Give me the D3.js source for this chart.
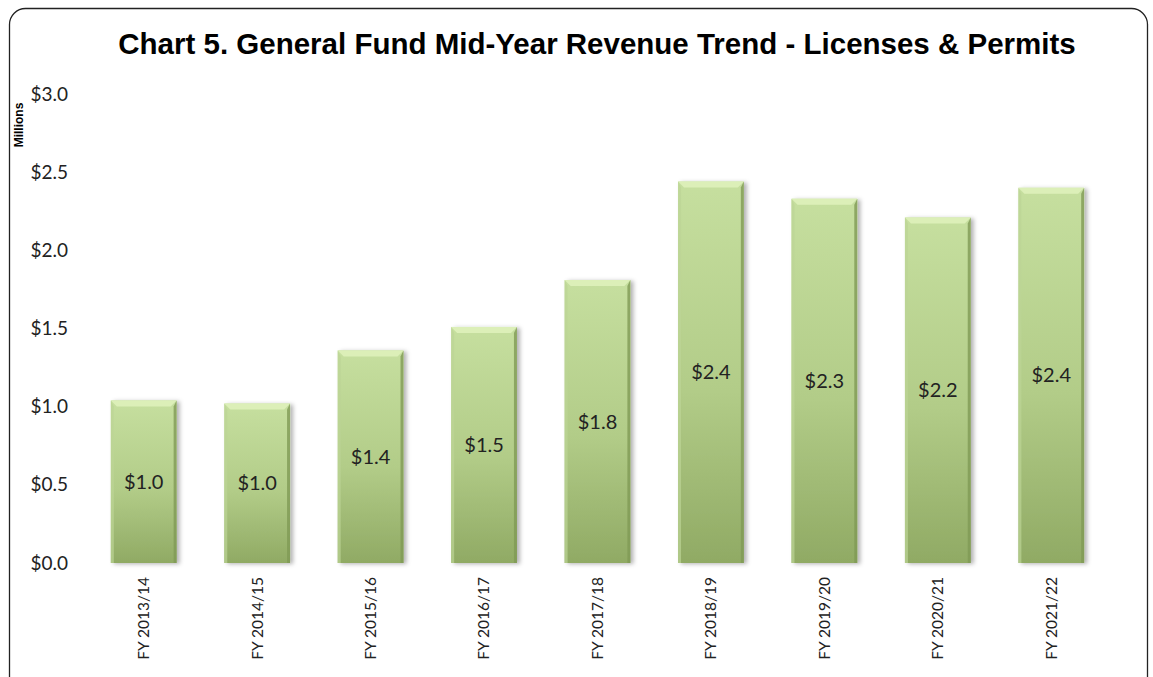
<!DOCTYPE html>
<html>
<head>
<meta charset="utf-8">
<script src="https://cdn.jsdelivr.net/npm/d3@7"></script>
<style>
  body { margin: 0; background: #fff; }
  svg { display: block; }
</style>
</head>
<body>
<script>
// DATA
var categories = ['FY 2013/14', 'FY 2014/15', 'FY 2015/16', 'FY 2016/17', 'FY 2017/18',
                  'FY 2018/19', 'FY 2019/20', 'FY 2020/21', 'FY 2021/22'];
var revenues = [1.04, 1.02, 1.36, 1.51, 1.81, 2.44, 2.33, 2.21, 2.40];
var barLabels = ['$1.0', '$1.0', '$1.4', '$1.5', '$1.8', '$2.4', '$2.3', '$2.2', '$2.4'];
var yTicks = [0, 0.5, 1.0, 1.5, 2.0, 2.5, 3.0];

var width = 1153;
var height = 677;

var svg = d3.select('body').append('svg')
  .attr('width', width)
  .attr('height', height);

var defs = svg.append('defs');

var grad = defs.append('linearGradient')
  .attr('id', 'barGrad')
  .attr('x1', 0).attr('y1', 0).attr('x2', 0).attr('y2', 1);
grad.append('stop').attr('offset', '0%').attr('stop-color', '#c6df9f');
grad.append('stop').attr('offset', '55%').attr('stop-color', '#b2cc88');
grad.append('stop').attr('offset', '100%').attr('stop-color', '#90aa64');

var shadow = defs.append('filter')
  .attr('id', 'shadow')
  .attr('x', '-20%').attr('y', '-10%').attr('width', '140%').attr('height', '120%');
shadow.append('feDropShadow')
  .attr('dx', 3).attr('dy', 1).attr('stdDeviation', 2)
  .attr('flood-color', '#000').attr('flood-opacity', 0.3);

// outer frame (bottom runs off the picture)
svg.append('rect')
  .attr('x', 9.5)
  .attr('y', 8.5)
  .attr('width', 1138)
  .attr('height', 700)
  .attr('rx', 16)
  .attr('fill', 'none')
  .attr('stroke', '#222')
  .attr('stroke-width', 1.3);

// title
svg.append('text')
  .attr('x', 597)
  .attr('y', 54)
  .attr('text-anchor', 'middle')
  .style('font-family', '"Liberation Sans", Arial, sans-serif')
  .style('font-weight', 'bold')
  .style('font-size', '29.5px')
  .text('Chart 5. General Fund Mid-Year Revenue Trend - Licenses & Permits');

// scales
var x = d3.scaleBand()
  .domain(categories)
  .range([87, 1108])
  .paddingInner(0.42)
  .paddingOuter(0.21);

var y = d3.scaleLinear()
  .domain([0, 3])
  .range([563, 94]);

// y axis labels
svg.selectAll('.ytick')
  .data(yTicks)
  .enter()
  .append('text')
  .attr('class', 'ytick')
  .attr('x', 68)
  .attr('y', function(d) { return y(d); })
  .attr('dy', '0.35em')
  .attr('text-anchor', 'end')
  .style('font-family', 'Lato, "Open Sans", sans-serif')
  .style('font-size', '19px')
  .style('fill', '#222')
  .text(function(d) { return '$' + d.toFixed(1); });

// units label
svg.append('text')
  .attr('transform', 'translate(23,125) rotate(-90)')
  .attr('text-anchor', 'middle')
  .style('font-family', '"Liberation Sans", Arial, sans-serif')
  .style('font-weight', 'bold')
  .style('font-size', '12px')
  .text('Millions');

// bars
var bars = svg.selectAll('.bar')
  .data(revenues)
  .enter()
  .append('g')
  .attr('class', 'bar');

bars.append('rect')
  .attr('x', function(d, i) { return x(categories[i]); })
  .attr('y', function(d) { return y(d); })
  .attr('width', x.bandwidth())
  .attr('height', function(d) { return y(0) - y(d); })
  .attr('fill', 'url(#barGrad)')
  .attr('filter', 'url(#shadow)');

var bev = 6;
// top bevel
bars.append('polygon')
  .attr('points', function(d, i) {
    var x0 = x(categories[i]), x1 = x0 + x.bandwidth(), t = y(d);
    return [[x0, t], [x1, t], [x1 - bev, t + bev], [x0 + bev, t + bev]].join(' ');
  })
  .attr('fill', '#dcefb8');
// left bevel
bars.append('polygon')
  .attr('points', function(d, i) {
    var x0 = x(categories[i]), t = y(d), b = y(0);
    return [[x0, t], [x0 + 3, t + bev], [x0 + 3, b], [x0, b]].join(' ');
  })
  .attr('fill', '#bcd495')
  .attr('opacity', 0.7);
// right bevel
bars.append('polygon')
  .attr('points', function(d, i) {
    var x1 = x(categories[i]) + x.bandwidth(), t = y(d), b = y(0);
    return [[x1, t], [x1 - 3, t + bev], [x1 - 3, b], [x1, b]].join(' ');
  })
  .attr('fill', '#7f9a55')
  .attr('opacity', 0.8);

// value labels
svg.selectAll('.vlabel')
  .data(revenues)
  .enter()
  .append('text')
  .attr('class', 'vlabel')
  .attr('x', function(d, i) { return x(categories[i]) + x.bandwidth() / 2; })
  .attr('y', function(d) { return (y(d) + y(0)) / 2; })
  .attr('dy', '0.35em')
  .attr('text-anchor', 'middle')
  .style('font-family', 'Lato, "Open Sans", sans-serif')
  .style('font-size', '20px')
  .style('fill', '#222')
  .text(function(d, i) { return barLabels[i]; });

// category labels
svg.selectAll('.xlabel')
  .data(categories)
  .enter()
  .append('text')
  .attr('class', 'xlabel')
  .attr('transform', function(d) {
    return 'translate(' + (x(d) + x.bandwidth() / 2) + ',' + 577 + ') rotate(-90)';
  })
  .attr('dy', '0.35em')
  .attr('text-anchor', 'end')
  .style('font-family', 'Lato, "Open Sans", sans-serif')
  .style('font-size', '15.5px')
  .style('fill', '#222')
  .text(function(d) { return d; });
</script>
</body>
</html>
